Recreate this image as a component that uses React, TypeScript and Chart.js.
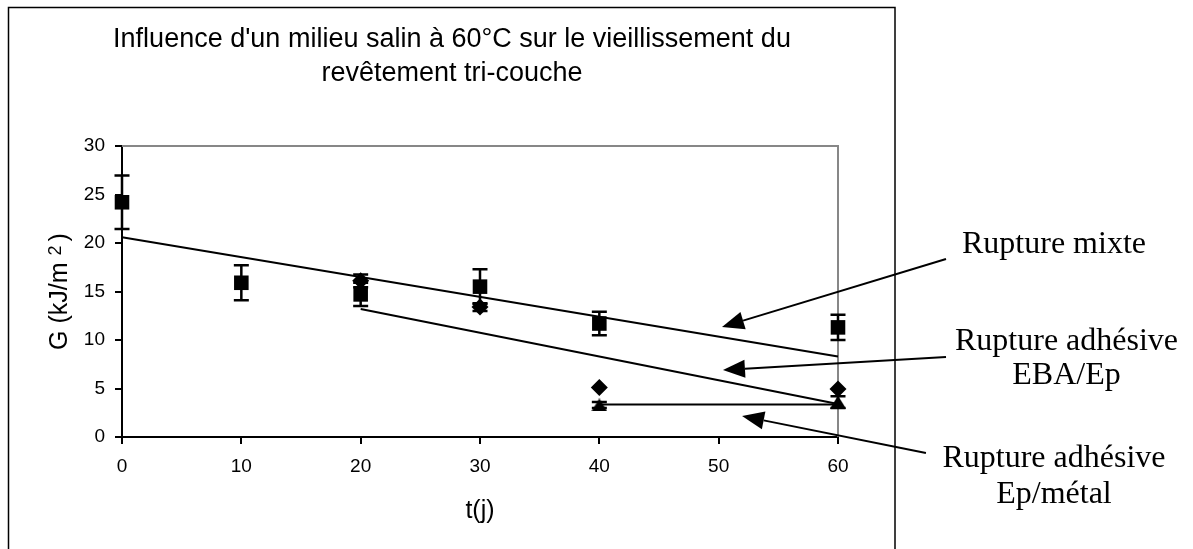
import React, { useEffect, useRef } from 'react';
import { Chart, registerables } from 'chart.js';

Chart.register(...registerables);

// ---- Data ----
const titleLines = ["Influence d'un milieu salin à 60°C sur le vieillissement du", 'revêtement tri-couche'];
const xAxisTitle = 't(j)';
const yTitleMain = 'G (kJ/m ';
const yTitleSup = '2';
const yTitleEnd = ')';

const squareX = [0, 10, 20, 30, 40, 60];
const squareY = [24.2, 15.9, 14.7, 15.5, 11.7, 11.3];
const squareErr = [2.75, 1.8, 1.2, 1.8, 1.2, 1.3];

const diamondX = [20, 30, 40, 60];
const diamondY = [16.1, 13.4, 5.1, 4.95];
const diamondErr = [0.65, 0.4, 0, 0];

const triangleX = [40, 60];
const triangleY = [3.3, 3.6];
const triangleErr = [0.3, 0.6];

const trendMixteX = [0, 60];
const trendMixteY = [20.6, 8.3];
const trendEbaX = [20, 60];
const trendEbaY = [13.2, 3.4];
const trendMetalX = [40, 60];
const trendMetalY = [3.35, 3.35];

const xMin = 0, xMax = 60, xStep = 10;
const yMin = 0, yMax = 30, yStep = 5;

// Annotations (in data coordinates)
const arrowFrom = [[69.05, 18.35], [69.05, 8.25], [67.37, -1.65]];
const arrowTo = [[50.28, 11.34], [50.36, 6.91], [51.96, 2.16]];
const labelTexts = [['Rupture mixte'], ['Rupture adhésive', 'EBA/Ep'], ['Rupture adhésive', 'Ep/métal']];
const labelX = [78.1, 79.15, 78.1];
const labelY = [[18.97], [8.97, 5.5], [-3.06, -6.83]];

const SANS = '"Liberation Sans", Arial, Helvetica, sans-serif';
const SERIF = '"Liberation Serif", "Times New Roman", serif';

const pts = (xs: number[], ys: number[]) => xs.map((x, i) => ({ x, y: ys[i] }));

function makeTriangle(): HTMLCanvasElement {
  const c = document.createElement('canvas');
  c.width = 16;
  c.height = 13;
  const g = c.getContext('2d')!;
  g.fillStyle = '#000';
  g.beginPath();
  g.moveTo(8, 0);
  g.lineTo(16, 13);
  g.lineTo(0, 13);
  g.closePath();
  g.fill();
  return c;
}

const errorBarPlugin = {
  id: 'errorBars',
  afterDatasetsDraw(chart: any) {
    const { ctx } = chart;
    const xs = chart.scales.x;
    const ys = chart.scales.y;
    chart.data.datasets.forEach((ds: any) => {
      if (!ds.errors) return;
      ctx.save();
      ctx.strokeStyle = '#000';
      ctx.lineWidth = 2.5;
      ds.data.forEach((p: any, i: number) => {
        const e = ds.errors[i];
        if (!e) return;
        const px = xs.getPixelForValue(p.x);
        const top = ys.getPixelForValue(p.y + e);
        const bot = ys.getPixelForValue(p.y - e);
        ctx.beginPath();
        ctx.moveTo(px, top);
        ctx.lineTo(px, bot);
        ctx.moveTo(px - 7.5, top);
        ctx.lineTo(px + 7.5, top);
        ctx.moveTo(px - 7.5, bot);
        ctx.lineTo(px + 7.5, bot);
        ctx.stroke();
      });
      ctx.restore();
    });
  },
};

const decorPlugin = {
  id: 'decor',
  beforeDatasetsDraw(chart: any) {
    const { ctx, chartArea } = chart;
    ctx.save();
    ctx.strokeStyle = '#878787';
    ctx.lineWidth = 2;
    ctx.beginPath();
    ctx.moveTo(chartArea.left, chartArea.top);
    ctx.lineTo(chartArea.right, chartArea.top);
    ctx.lineTo(chartArea.right, chartArea.bottom);
    ctx.stroke();
    ctx.restore();
  },
  afterDraw(chart: any) {
    const { ctx } = chart;
    const xs = chart.scales.x;
    const ys = chart.scales.y;
    ctx.save();
    // outer frame
    ctx.strokeStyle = '#000';
    ctx.lineWidth = 1.5;
    ctx.strokeRect(8.5, 7.5, 886.5, 560);

    // y axis title with superscript
    ctx.fillStyle = '#000';
    ctx.save();
    const cy = (ys.top + ys.bottom) / 2;
    ctx.translate(0, cy);
    ctx.rotate(-Math.PI / 2);
    ctx.textBaseline = 'alphabetic';
    ctx.textAlign = 'left';
    ctx.font = '25px ' + SANS;
    const w1 = ctx.measureText(yTitleMain).width;
    const w3 = ctx.measureText(yTitleEnd).width;
    ctx.font = '18px ' + SANS;
    const w2 = ctx.measureText(yTitleSup).width;
    const gap = 4;
    const total = w1 + w2 + gap + w3;
    let sx = -total / 2;
    ctx.font = '25px ' + SANS;
    ctx.fillText(yTitleMain, sx, 67);
    sx += w1;
    ctx.font = '18px ' + SANS;
    ctx.fillText(yTitleSup, sx, 61);
    sx += w2 + gap;
    ctx.font = '25px ' + SANS;
    ctx.fillText(yTitleEnd, sx, 67);
    ctx.restore();

    // arrows
    ctx.strokeStyle = '#000';
    ctx.fillStyle = '#000';
    ctx.lineWidth = 2;
    arrowFrom.forEach((f, i) => {
      const t = arrowTo[i];
      const x1 = xs.getPixelForValue(f[0]);
      const y1 = ys.getPixelForValue(f[1]);
      const x2 = xs.getPixelForValue(t[0]);
      const y2 = ys.getPixelForValue(t[1]);
      const ang = Math.atan2(y2 - y1, x2 - x1);
      const L = 22, W = 9;
      const bx = x2 - L * Math.cos(ang);
      const by = y2 - L * Math.sin(ang);
      ctx.beginPath();
      ctx.moveTo(x1, y1);
      ctx.lineTo(bx, by);
      ctx.stroke();
      ctx.beginPath();
      ctx.moveTo(x2, y2);
      ctx.lineTo(bx - W * Math.sin(ang), by + W * Math.cos(ang));
      ctx.lineTo(bx + W * Math.sin(ang), by - W * Math.cos(ang));
      ctx.closePath();
      ctx.fill();
    });

    // labels
    ctx.font = '32px ' + SERIF;
    ctx.textAlign = 'center';
    ctx.textBaseline = 'alphabetic';
    labelTexts.forEach((lines, i) => {
      lines.forEach((txt, j) => {
        ctx.fillText(txt, xs.getPixelForValue(labelX[i]), ys.getPixelForValue(labelY[i][j]));
      });
    });
    ctx.restore();
  },
};

export default function App() {
  const ref = useRef<HTMLCanvasElement>(null);
  useEffect(() => {
    if (!ref.current) return;
    const tri = makeTriangle();
    const chart = new Chart(ref.current, {
      type: 'line',
      data: {
        datasets: [
          {
            label: 'Rupture mixte',
            data: pts(squareX, squareY),
            errors: squareErr,
            showLine: false,
            pointStyle: 'rect',
            pointRadius: 10.3,
            pointBackgroundColor: '#000',
            pointBorderColor: '#000',
            pointBorderWidth: 0,
            clip: false,
          } as any,
          {
            label: 'Rupture adhésive EBA/Ep',
            data: pts(diamondX, diamondY),
            errors: diamondErr,
            showLine: false,
            pointStyle: 'rectRot',
            pointRadius: 8.5,
            pointBackgroundColor: '#000',
            pointBorderColor: '#000',
            pointBorderWidth: 0,
            clip: false,
          } as any,
          {
            label: 'Rupture adhésive Ep/métal',
            data: pts(triangleX, triangleY),
            errors: triangleErr,
            showLine: false,
            pointStyle: tri,
            pointRadius: 8,
            clip: false,
          } as any,
          {
            label: 'Tendance mixte',
            data: pts(trendMixteX, trendMixteY),
            borderColor: '#000',
            borderWidth: 2,
            pointRadius: 0,
            clip: false,
          },
          {
            label: 'Tendance EBA/Ep',
            data: pts(trendEbaX, trendEbaY),
            borderColor: '#000',
            borderWidth: 2,
            pointRadius: 0,
            clip: false,
          },
          {
            label: 'Tendance Ep/métal',
            data: pts(trendMetalX, trendMetalY),
            borderColor: '#000',
            borderWidth: 2,
            pointRadius: 0,
            clip: false,
          },
        ],
      },
      options: {
        responsive: false,
        animation: false,
        devicePixelRatio: 1,
        events: [],
        layout: { padding: { left: 66, right: 355, top: 0, bottom: 0 } },
        plugins: {
          legend: { display: false },
          tooltip: { enabled: false },
          title: {
            display: true,
            text: titleLines,
            color: '#000',
            font: { family: SANS, size: 27, weight: 'normal', lineHeight: 34 / 27 },
            padding: { top: 23, bottom: 55 },
          },
        },
        scales: {
          x: {
            type: 'linear',
            min: xMin,
            max: xMax,
            ticks: { stepSize: xStep, color: '#000', font: { family: SANS, size: 19 }, padding: 11 },
            grid: { drawOnChartArea: false, drawTicks: true, tickLength: 7, color: '#000', lineWidth: 2 },
            border: { display: true, color: '#000', width: 2 },
            title: {
              display: true,
              text: xAxisTitle,
              color: '#000',
              font: { family: SANS, size: 25 },
              padding: { top: 0, bottom: 23 },
            },
            afterFit: (s: any) => {
              s.height = 112;
            },
          },
          y: {
            type: 'linear',
            min: yMin,
            max: yMax,
            ticks: { stepSize: yStep, color: '#000', font: { family: SANS, size: 19 }, padding: 10 },
            grid: { drawOnChartArea: false, drawTicks: true, tickLength: 7, color: '#000', lineWidth: 2 },
            border: { display: true, color: '#000', width: 2 },
            afterFit: (s: any) => {
              s.width = 56;
            },
          },
        },
      } as any,
      plugins: [errorBarPlugin, decorPlugin],
    });
    return () => chart.destroy();
  }, []);

  return (
    <div style={{ position: 'absolute', left: 0, top: 0, width: 1193, height: 549, background: '#fff', overflow: 'hidden' }}>
      <canvas ref={ref} width={1193} height={549} style={{ display: 'block' }} />
    </div>
  );
}
